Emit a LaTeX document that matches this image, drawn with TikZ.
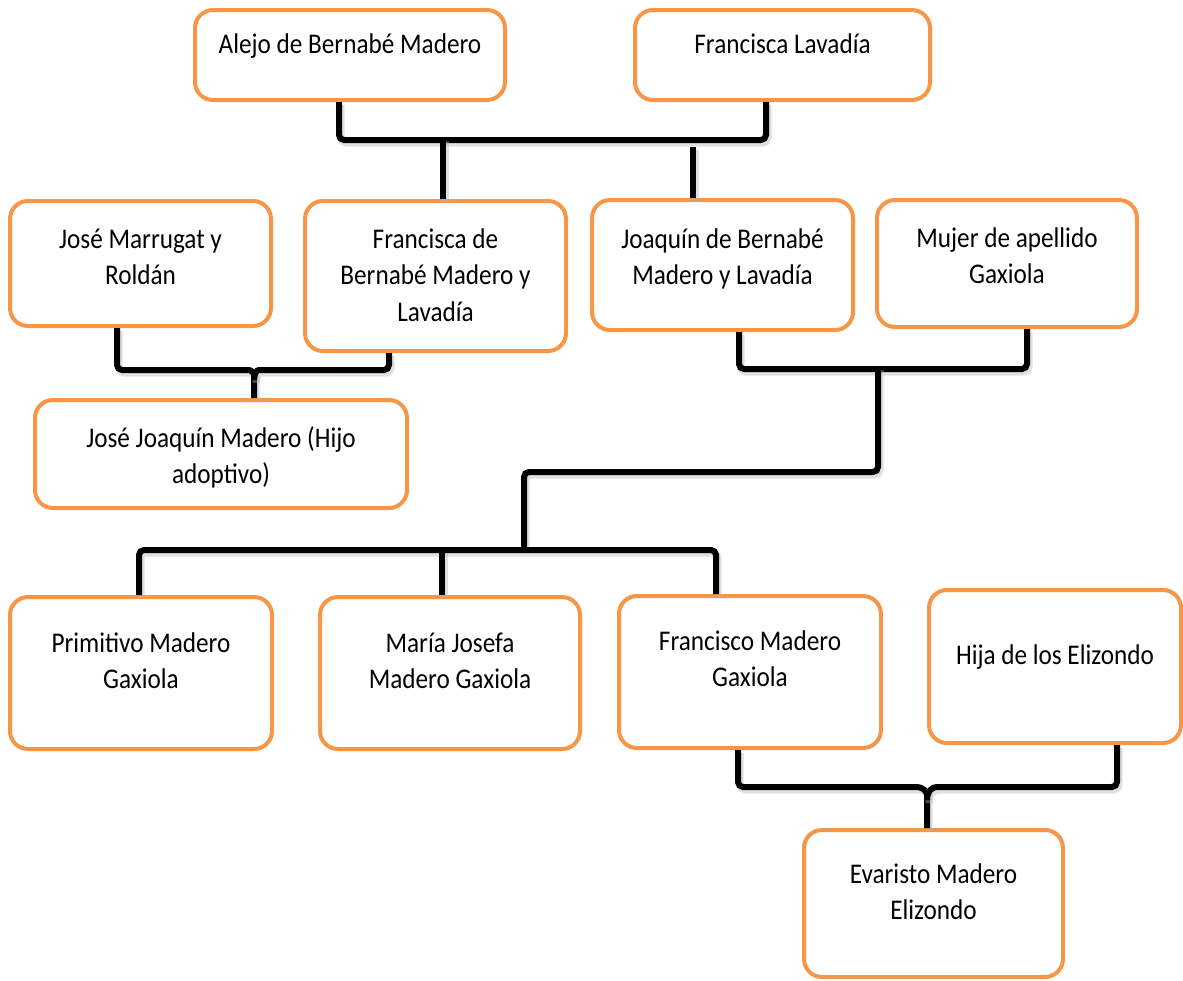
\documentclass[tikz,border=0pt]{standalone}
\usepackage{fontspec}
\setmainfont{Carlito}[FakeStretch=0.885]
\definecolor{boxorange}{HTML}{F79646}
\newcommand\boxtext[4]{\parbox[c][#2][t]{#1}{\centering\rule{0pt}{#3}#4\par}}
\tikzset{
  famil/.style={draw=boxorange, line width=4pt, rounded corners=18pt, fill=white, inner sep=0pt,
    font=\fontsize{28.5}{36.5}\selectfont},
  conn/.style={draw=black, line width=6pt, rounded corners=5pt,
    preaction={draw=black!30, opacity=0.4, line width=7pt, transform canvas={xshift=2pt,yshift=-3pt}}},
}
\begin{document}
\begin{tikzpicture}[x=1pt,y=-1pt]
\useasboundingbox (0,0) rectangle (1183,980);
% boxes
\node[famil] (alejo) at (350,55) {\boxtext{310pt}{90pt}{43pt}{Alejo de Bernabé Madero}};
\node[famil] (flav) at (782.5,55) {\boxtext{295pt}{90pt}{43pt}{Francisca Lavadía}};
\node[famil] (marrugat) at (140.5,263.5) {\boxtext{261pt}{125pt}{47pt}{José Marrugat y\\Roldán}};
\node[famil] (fdb) at (435.5,276) {\boxtext{261pt}{150pt}{47pt}{Francisca de\\Bernabé Madero y\\Lavadía}};
\node[famil] (joaquin) at (722.5,265) {\boxtext{261pt}{130pt}{48pt}{Joaquín de Bernabé\\Madero y Lavadía}};
\node[famil] (mujer) at (1007,263.5) {\boxtext{260pt}{127pt}{47pt}{Mujer de apellido\\Gaxiola}};
\node[famil] (jjm) at (221,454) {\boxtext{372pt}{108pt}{47pt}{José Joaquín Madero (Hijo\\adoptivo)}};
\node[famil] (primitivo) at (141,673) {\boxtext{262pt}{152pt}{55pt}{Primitivo Madero\\Gaxiola}};
\node[famil] (maria) at (450,673) {\boxtext{260pt}{152pt}{55pt}{María Josefa\\Madero Gaxiola}};
\node[famil] (francisco) at (750,672) {\boxtext{262pt}{152pt}{54pt}{Francisco Madero\\Gaxiola}};
\node[famil] (hija) at (1055,666.5) {\boxtext{252pt}{153pt}{74pt}{Hija de los Elizondo}};
\node[famil] (evaristo) at (933.5,903.5) {\boxtext{259pt}{147pt}{53pt}{Evaristo Madero\\Elizondo}};
% junction points
\coordinate (jb) at (443,138);
\coordinate (jc) at (693,147);
\coordinate (jd) at (254,380);
\coordinate (je) at (878,367);
\coordinate (jf) at (524,550);
\coordinate (jm) at (442,550);
\coordinate (jg) at (927,800);
% connectors
\draw[conn] ([xshift=-11pt]alejo.south) -- ++(0,38) -| ([xshift=-16.5pt]flav.south);
\draw[conn] (jb) -- (jb |- fdb.north);
\draw[conn] (jc) -- (jc |- joaquin.north);
\draw[conn] ([xshift=-23.5pt]marrugat.south) |- (244,370) .. controls (251,370) and (254,373) .. (jd) -- (jd |- jjm.north);
\draw[conn] ([xshift=-46.5pt]fdb.south) |- (264,370) .. controls (257,370) and (254,373) .. (jd);
\draw[conn] ([xshift=16.5pt]joaquin.south) -- ++(0,37) -| ([xshift=20pt]mujer.south);
\draw[conn] (je) -- (878,472) -| (jf);
\draw[conn] ([xshift=-2pt]primitivo.north) |- (jf) -| ([xshift=-34pt]francisco.north);
\draw[conn] (jm) -- (jm |- maria.north);
\draw[conn] ([xshift=-12pt]francisco.south) |- (912,787) .. controls (922,787) and (927,791) .. (jg) -- (jg |- evaristo.north);
\draw[conn] ([xshift=62pt]hija.south) |- (942,787) .. controls (932,787) and (927,791) .. (jg);
\end{tikzpicture}
\end{document}
